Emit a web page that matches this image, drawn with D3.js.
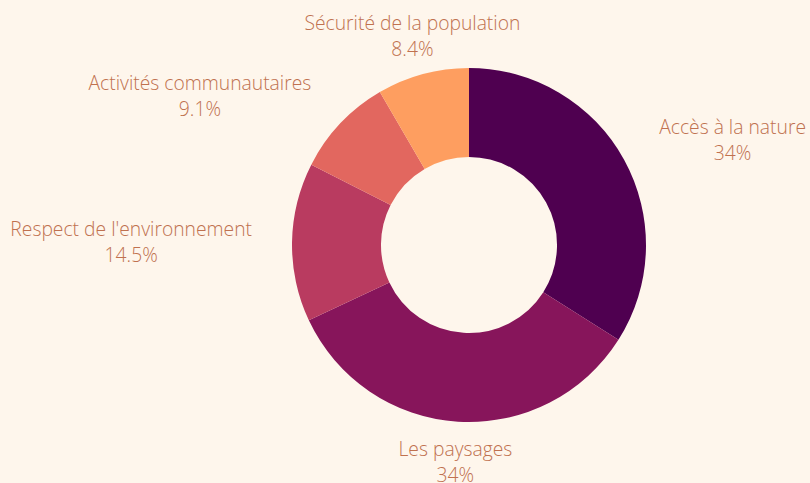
<!DOCTYPE html>
<html>
<head>
<meta charset="utf-8">
<script src="https://cdn.jsdelivr.net/npm/d3@7"></script>
<style>
  html, body { margin: 0; padding: 0; background: #fef6ec; }
  svg { display: block; }
  text { font-family: "Open Sans", sans-serif; font-weight: 300; }
</style>
</head>
<body>
<script>
const width = 810;
const height = 483;

// data, clockwise from 12 o'clock
const categories = [
  "Accès à la nature",
  "Les paysages",
  "Respect de l'environnement",
  "Activités communautaires",
  "Sécurité de la population",
];
const values = [34, 34, 14.5, 9.1, 8.4];
const valueLabels = ["34%", "34%", "14.5%", "9.1%", "8.4%"];
const colors = ["#4f0050", "#87155b", "#b93b60", "#e2675f", "#fe9e60"];

const cx = 469;
const cy = 245;
const outerR = 177;
const innerR = 88;
const labelR = 217;

const svg = d3.select("body")
  .append("svg")
  .attr("width", width)
  .attr("height", height);

const g = svg.append("g")
  .attr("transform", `translate(${cx},${cy})`);

const pie = d3.pie()
  .value(d => d.value)
  .sort(null);

const arc = d3.arc()
  .innerRadius(innerR)
  .outerRadius(outerR);

const data = categories.map((c, i) => ({ name: c, value: values[i], label: valueLabels[i], color: colors[i] }));
const arcs = pie(data);

g.selectAll("path")
  .data(arcs)
  .enter()
  .append("path")
  .attr("d", arc)
  .attr("fill", d => d.data.color);

const mid = d => (d.startAngle + d.endAngle) / 2;
const side = d => {
  const s = Math.sin(mid(d));
  if (Math.abs(s) < 0.3) return 0;
  return s > 0 ? 1 : -1;
};

const labels = g.selectAll("text.lbl")
  .data(arcs)
  .enter()
  .append("text")
  .attr("class", "lbl")
  .attr("fill", "#c0714f")
  .attr("font-size", 19.3)
  .attr("text-anchor", "middle")
  .attr("transform", d => {
    const a = mid(d);
    return `translate(${labelR * Math.sin(a)},${-labelR * Math.cos(a)})`;
  });

labels.append("tspan")
  .attr("y", -6)
  .text(d => d.data.name);

labels.append("tspan")
  .attr("y", 20)
  .text(d => d.data.label);

// lines are centred on each other, block anchored to the point
labels.each(function(d) {
  const spans = d3.select(this).selectAll("tspan");
  let w = 0;
  spans.each(function() { w = Math.max(w, this.getComputedTextLength()); });
  spans.attr("x", side(d) * w / 2);
});
</script>
</body>
</html>
